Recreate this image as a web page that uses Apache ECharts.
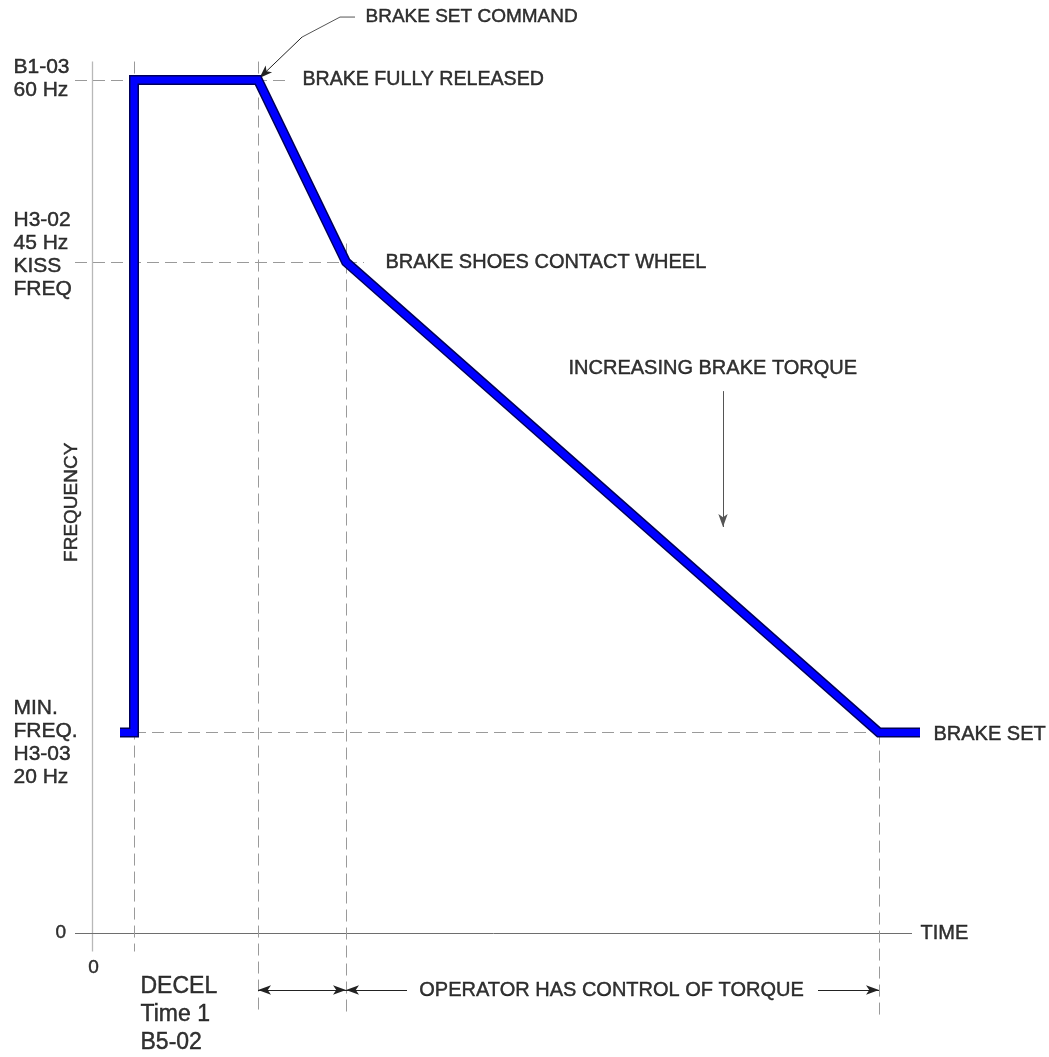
<!DOCTYPE html>
<html><head><meta charset="utf-8">
<script src="https://cdn.jsdelivr.net/npm/echarts@6/dist/echarts.min.js"></script>
<style>html,body{margin:0;padding:0;background:#fff}#c{width:1049px;height:1057px}</style>
</head><body><div id="c"></div>
<script>
// ---------------- data ----------------
// frequency levels (Hz) and their drawn height on this schematic (diagram is not to scale)
const levelHz = [0, 20, 45, 60];
const levelHeight = [0, 14.1, 47.2, 60];
const levelLabels = ['0', 'MIN.\nFREQ.\nH3-03\n20 Hz', 'H3-02\n45 Hz\nKISS\nFREQ', 'B1-03\n60 Hz'];
// time events: accel step, brake set command, shoes contact wheel, brake set
const eventTimes = [4.2, 16.6, 25.4, 78.7];
// frequency profile
const profileTime = [2.8, 4.2, 4.2, 16.6, 25.4, 78.7, 82.8];
const profileHz = [20, 20, 60, 60, 45, 20, 20];
const timeTickLabels = ['0'];

// ---------------- helpers ----------------
const H = hz => levelHeight[levelHz.indexOf(hz)];
const profile = profileTime.map((t, i) => [t, H(profileHz[i])]);
const FONT = 'Liberation Sans, Arial, sans-serif';
const [tAcc, tCmd, tContact, tSet] = eventTimes;
const vDim = -4.01;

function ml(a, b, style, startSym, endSym) {
  const s = { coord: a, symbol: startSym || 'none' };
  const e = { coord: b, symbol: endSym || 'none' };
  if (style) s.lineStyle = style;
  return [s, e];
}

const chart = echarts.init(document.getElementById('c'), null, { renderer: 'canvas' });

const dashStyle = { color: '#9a9a9a', width: 1, type: [12, 6] };
const arrowStyle = { color: '#222', width: 1, type: 'solid' };
const pointerStyle = { color: '#555', width: 1, type: 'solid' };
const textBase = { color: '#000', textBorderColor: '#000', textBorderWidth: 0.45, fontFamily: FONT };

// tick labels (placed at the level they describe)
const labelOffset = { 0: 0, 20: -0.7, 45: 0.53, 60: 0.1 };
const tickTexts = levelHz.map((hz, i) => hz === 0
  ? { name: levelLabels[i], value: [-3.7, levelHeight[i]], label: { fontSize: 19 } }
  : { name: levelLabels[i], value: [-7.9, levelHeight[i] + labelOffset[hz]] });
tickTexts.push({ name: timeTickLabels[0], value: [0.15, -2.46], label: { position: 'inside', fontSize: 19 } });

const texts = [
  { name: 'BRAKE SET COMMAND', value: [27.3, 64.43], label: { fontSize: 19 } },
  { name: 'BRAKE FULLY RELEASED', value: [21.0, H(60)], label: { fontSize: 19.6 } },
  { name: 'BRAKE SHOES CONTACT WHEEL', value: [29.3, H(45)] },
  { name: 'INCREASING BRAKE TORQUE', value: [47.6, 39.74] },
  { name: 'BRAKE SET', value: [84.1, H(20) - 0.15] },
  { name: 'TIME', value: [82.8, 0] },
  { name: 'FREQUENCY', value: [-2.0, 30.3], label: { position: 'inside', rotate: 90, fontSize: 19 } },
  { name: 'OPERATOR HAS CONTROL OF TORQUE', value: [(tContact + tSet) / 2 - 0.1, vDim], label: { position: 'inside' } },
  { name: 'DECEL\nTime 1\nB5-02', value: [4.8, -5.77], label: { fontSize: 23, lineHeight: 28 } }
];

const option = {
  animation: false,
  backgroundColor: '#ffffff',
  grid: { left: 0, right: 0, top: 0, bottom: 0, containLabel: false, outerBoundsMode: 'none' },
  xAxis: {
    type: 'value', min: -9.2, max: 95.7,
    axisLine: { show: false }, axisTick: { show: false }, splitLine: { show: false }, axisLabel: { show: false }
  },
  yAxis: {
    type: 'value', min: -8.72, max: 65.63,
    axisLine: { show: false }, axisTick: { show: false }, splitLine: { show: false }, axisLabel: { show: false }
  },
  series: [
    { // axes + dashed guide lines
      type: 'line', data: [[0, 0]], symbol: 'none', lineStyle: { width: 0 }, silent: true, z: 1,
      markLine: {
        silent: true, symbol: 'none', label: { show: false }, animation: false,
        data: [
          ml([0, 61.3], [0, -1.3], { color: '#b8b8b8', width: 1.3, type: 'solid' }),
          ml([-1.7, 0], [82, 0], { color: '#6e6e6e', width: 1, type: 'solid' }),
          ml([-1.7, H(60)], [19.6, H(60)], dashStyle),
          ml([-1.7, H(45)], [27.2, H(45)], dashStyle),
          ml([tAcc, H(20)], [tSet, H(20)], dashStyle),
          ml([tAcc, 61.3], [tAcc, -1.3], dashStyle),
          ml([tCmd, 61.3], [tCmd, -5.8], dashStyle),
          ml([tContact, 48.5], [tContact, -5.8], dashStyle),
          ml([tSet, H(20)], [tSet, -5.8], dashStyle)
        ]
      }
    },
    { // dimension arrows and pointer arrows
      type: 'line', data: [[0, 0]], symbol: 'none', lineStyle: { width: 0 }, silent: true, z: 2,
      markLine: {
        silent: true, label: { show: false }, animation: false,
        symbolSize: [7, 13],
        lineStyle: arrowStyle,
        data: [
          ml([(tCmd + tContact) / 2, vDim], [tCmd, vDim], arrowStyle, 'none', 'arrow'),
          ml([(tCmd + tContact) / 2, vDim], [tContact, vDim], arrowStyle, 'none', 'arrow'),
          ml([31.5, vDim], [tContact, vDim], arrowStyle, 'none', 'arrow'),
          ml([72.6, vDim], [tSet, vDim], arrowStyle, 'none', 'arrow'),
          ml([63.1, 38.12], [63.1, 28.56], pointerStyle, 'none', 'arrow'),
          ml([21.0, 63.02], [tCmd + 0.15, 60.15], arrowStyle, 'none', 'arrow')
        ]
      }
    },
    { // leader line for BRAKE SET COMMAND
      type: 'line', data: [[26.3, 64.43], [24.8, 64.43], [21.0, 63.02]], symbol: 'none', silent: true, z: 2,
      lineStyle: { color: '#555', width: 1 }
    },
    { // profile outline
      type: 'line', data: profile, symbol: 'none', silent: true, z: 5, clip: false,
      lineStyle: { color: '#00005a', width: 10, join: 'miter', cap: 'butt' }
    },
    { // profile
      type: 'line', name: 'Frequency', data: profile, symbol: 'none', silent: true, z: 6, clip: false,
      lineStyle: { color: '#0000ff', width: 7, join: 'miter', cap: 'butt' }
    },
    { // text annotations
      type: 'scatter', symbolSize: 1, itemStyle: { color: 'rgba(0,0,0,0)' }, silent: true, z: 10,
      label: Object.assign({ show: true, position: 'right', distance: 0, fontSize: 20, formatter: p => p.name }, textBase),
      data: texts
    },
    { // tick labels
      type: 'scatter', symbolSize: 1, itemStyle: { color: 'rgba(0,0,0,0)' }, silent: true, z: 10,
      label: Object.assign({ show: true, position: 'right', distance: 0, fontSize: 21, lineHeight: 23, formatter: p => p.name }, textBase),
      data: tickTexts
    }
  ]
};
chart.setOption(option);
</script>
</body></html>
